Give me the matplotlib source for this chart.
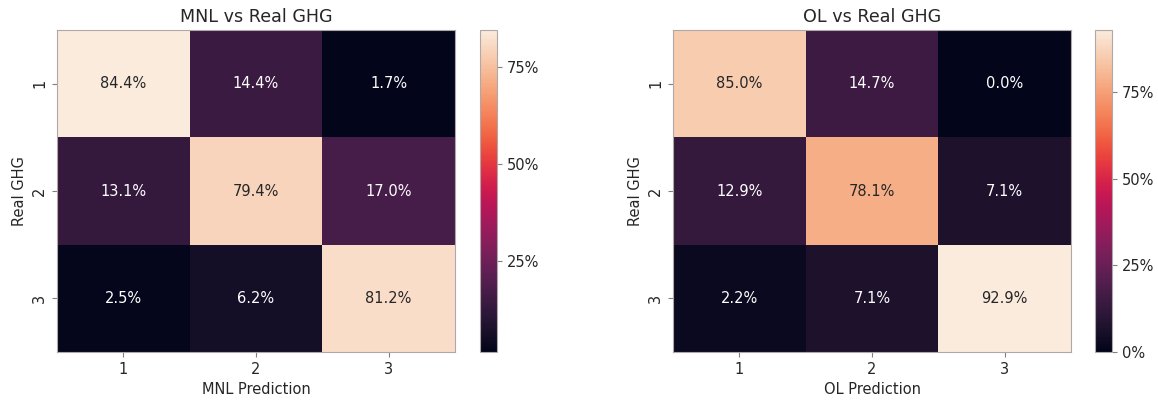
import numpy as np
import matplotlib
matplotlib.use("Agg")
import matplotlib.pyplot as plt
import matplotlib.ticker as mtick
import seaborn as sns

labels = ["1", "2", "3"]
mnl_cm = np.array([[0.844, 0.144, 0.017],
                   [0.131, 0.794, 0.170],
                   [0.025, 0.062, 0.812]])
ol_cm = np.array([[0.850, 0.147, 0.000],
                  [0.129, 0.781, 0.071],
                  [0.022, 0.071, 0.929]])

plt.rcParams["text.color"] = "#262626"
plt.rcParams["axes.labelcolor"] = "#262626"
plt.rcParams["xtick.color"] = "#262626"
plt.rcParams["ytick.color"] = "#262626"

fig = plt.figure(figsize=(11.58, 4.07), dpi=100)
W, H = 1158, 407


def box(x0, y0, x1, y1):
    return [x0 / W, 1 - y1 / H, (x1 - x0) / W, (y1 - y0) / H]


panels = [
    (mnl_cm, "MNL vs Real GHG", "MNL Prediction", box(57, 30, 455, 352), box(480, 30, 497, 352)),
    (ol_cm, "OL vs Real GHG", "OL Prediction", box(673, 30, 1071, 352), box(1095, 30, 1112, 352)),
]

for data, title, xlabel, hpos, cpos in panels:
    ax = fig.add_axes(hpos)
    cax = fig.add_axes(cpos)
    sns.heatmap(data, annot=True, fmt=".1%", cmap="rocket", ax=ax, cbar_ax=cax,
                xticklabels=labels, yticklabels=labels,
                annot_kws={"fontsize": 10.5})
    ax.set_title(title, fontsize=12.6)
    ax.set_xlabel(xlabel, fontsize=10.5)
    ax.set_ylabel("Real GHG", fontsize=10.5)
    ax.tick_params(labelsize=10.5, color="#808080")
    for s in ax.spines.values():
        s.set_visible(True)
        s.set_color("#b0a8a8")
        s.set_linewidth(0.8)
    cax.yaxis.set_major_formatter(mtick.PercentFormatter(1.0, decimals=0))
    cax.yaxis.set_major_locator(mtick.MultipleLocator(0.25))
    cax.tick_params(labelsize=10.5, color="#808080")
    cb = ax.collections[0].colorbar
    cb.outline.set_visible(True)
    cb.outline.set_edgecolor("#b0a8a8")
    cb.outline.set_linewidth(0.8)

fig.savefig("out.png", dpi=100)
